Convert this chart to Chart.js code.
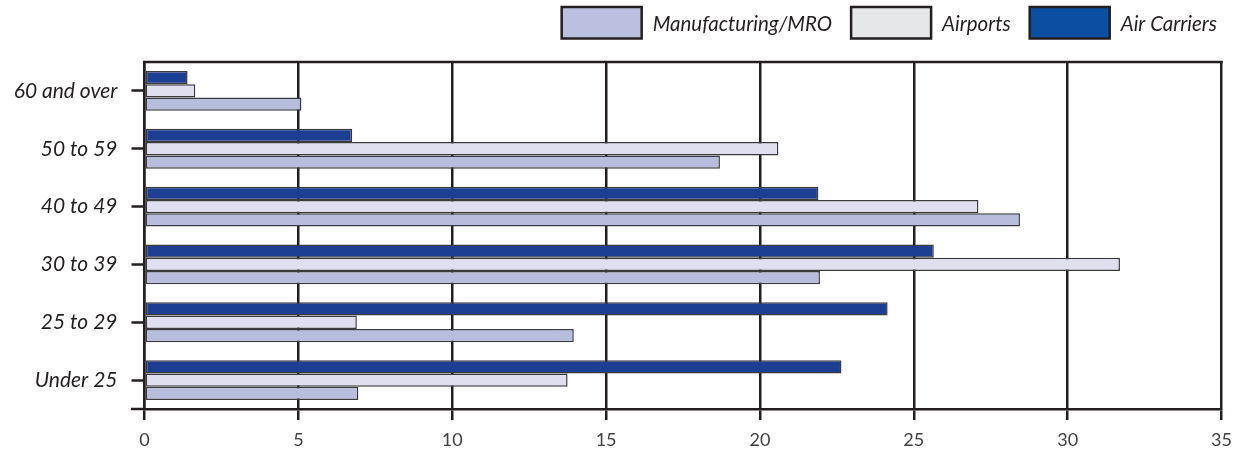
<!DOCTYPE html>
<html>
<head>
<meta charset="utf-8">
<title>Age distribution by sector</title>
<script src="https://cdn.jsdelivr.net/npm/chart.js@4.4.1/dist/chart.umd.min.js"></script>
<style>
  html, body { margin: 0; padding: 0; background: #ffffff; }
  #wrap { width: 1245px; height: 452px; position: relative; }
</style>
</head>
<body>
<div id="wrap"><canvas id="ages"></canvas></div>
<script>
// Age bands, top to bottom
const ageBands = ['60 and over', '50 to 59', '40 to 49', '30 to 39', '25 to 29', 'Under 25'];

// Share of workforce (%) in each age band, by sector
const airCarriers   = [1.4, 6.75, 21.9, 25.65, 24.15, 22.65];
const airports      = [1.65, 20.6, 27.1, 31.7, 6.9, 13.75];
const manufacturing = [5.1, 18.7, 28.45, 21.95, 13.95, 6.95];

// Value axis
const valueMin = 0;
const valueMax = 35;
const valueStep = 5;

const INK = '#231f20';
const BAR_EDGE = '#3b3a3d';

// Key entries, left to right, with their swatch colours
const keyEntries = [
  { label: 'Manufacturing/MRO', fill: '#bbbfe0' },
  { label: 'Airports',          fill: '#e6e7e8' },
  { label: 'Air Carriers',      fill: '#0b4ea2' }
];

// Draws the top rule of the frame, the short run-out of the base line,
// and the key in the top-right corner.
const frameAndKey = {
  id: 'frameAndKey',
  afterDraw(chart) {
    const { ctx, chartArea: a } = chart;
    ctx.save();
    ctx.strokeStyle = INK;
    ctx.lineWidth = 2.5;
    ctx.lineCap = 'butt';
    ctx.beginPath();
    ctx.moveTo(a.left - 1.25, a.top);
    ctx.lineTo(a.right + 1.25, a.top);
    ctx.stroke();
    ctx.beginPath();
    ctx.moveTo(a.left - 13.5, a.bottom);
    ctx.lineTo(a.left, a.bottom);
    ctx.stroke();

    // key, laid out from the right edge
    ctx.font = 'italic 20.5px Lato';
    ctx.textBaseline = 'alphabetic';
    ctx.textAlign = 'right';
    const boxW = 80, boxH = 31.5, boxTop = 7, gapText = 11, gapItem = 19;
    let x = a.right - 4.5;
    for (let i = keyEntries.length - 1; i >= 0; i--) {
      const e = keyEntries[i];
      const w = ctx.measureText(e.label).width;
      ctx.fillStyle = INK;
      ctx.fillText(e.label, x, 31);
      const boxRight = x - w - gapText;
      const boxLeft = boxRight - boxW;
      ctx.fillStyle = e.fill;
      ctx.fillRect(boxLeft, boxTop, boxW, boxH);
      ctx.lineWidth = 2.5;
      ctx.strokeStyle = INK;
      ctx.strokeRect(boxLeft, boxTop, boxW, boxH);
      x = boxLeft - gapItem;
    }
    ctx.restore();
  }
};

const barStyle = {
  borderColor: BAR_EDGE,
  borderWidth: 1.5,
  borderSkipped: false,
  categoryPercentage: 0.69,
  barPercentage: 1.0
};

new Chart(document.getElementById('ages'), {
  type: 'bar',
  data: {
    labels: ageBands,
    datasets: [
      Object.assign({ label: 'Air Carriers', data: airCarriers, backgroundColor: '#1c3f94' }, barStyle),
      Object.assign({ label: 'Airports', data: airports, backgroundColor: '#dfdff0' }, barStyle),
      Object.assign({ label: 'Manufacturing/MRO', data: manufacturing, backgroundColor: '#b8bcdd' }, barStyle)
    ]
  },
  options: {
    indexAxis: 'y',
    responsive: true,
    maintainAspectRatio: false,
    animation: false,
    layout: { padding: { top: 62, right: 23.5, bottom: 0, left: 0 } },
    plugins: {
      legend: { display: false },
      tooltip: { enabled: false }
    },
    scales: {
      x: {
        type: 'linear',
        min: valueMin,
        max: valueMax,
        ticks: {
          stepSize: valueStep,
          color: '#414042',
          font: { family: 'Lato', size: 18 },
          padding: 9
        },
        grid: {
          color: INK,
          lineWidth: 2.5,
          drawTicks: true,
          tickLength: 11,
          tickColor: INK,
          tickWidth: 2.5
        },
        border: { display: true, color: INK, width: 2.5 },
        afterFit(scale) { scale.height = 43; }
      },
      y: {
        type: 'category',
        ticks: {
          color: INK,
          font: { family: 'Lato', size: 21, style: 'italic' },
          padding: 14
        },
        grid: {
          offset: false,
          drawOnChartArea: false,
          drawTicks: true,
          tickLength: 13,
          tickColor: INK,
          tickWidth: 2.5
        },
        border: { display: true, color: INK, width: 2.5 },
        afterFit(scale) { scale.width = 144.5; }
      }
    }
  },
  plugins: [frameAndKey]
});
</script>
</body>
</html>
